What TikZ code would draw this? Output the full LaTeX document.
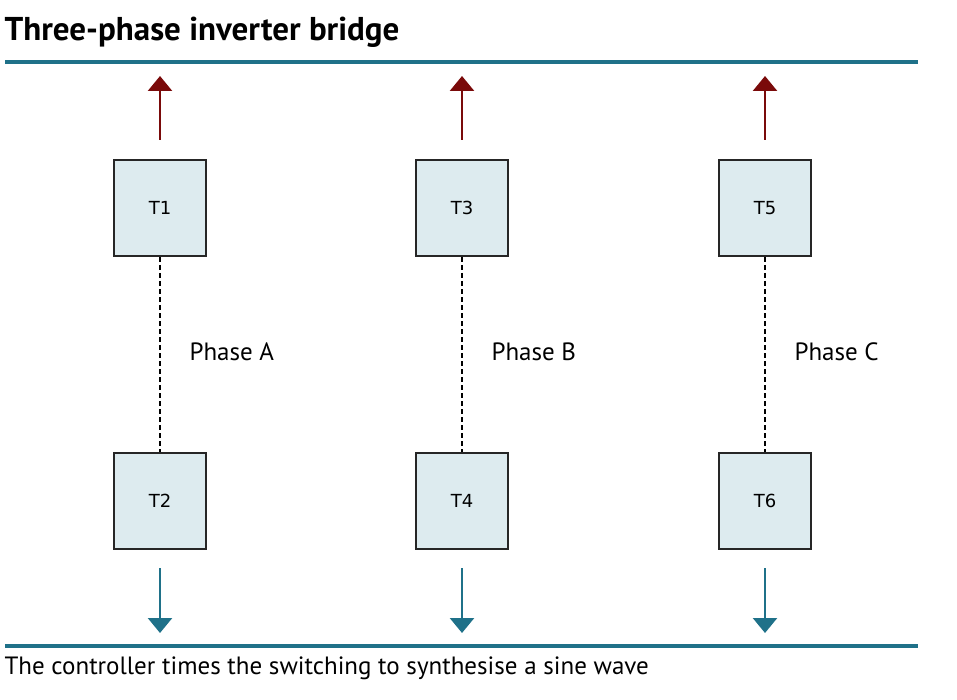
\documentclass[tikz,border=0pt]{standalone}
\usepackage{fontspec}
\setmainfont{PT Sans}
\newfontfamily\boxfont{DejaVu Sans}
\usetikzlibrary{arrows.meta}
\definecolor{teal1}{HTML}{1F7189}
\definecolor{dred}{HTML}{7A0A0A}
\definecolor{boxfill}{HTML}{DDEBEF}
\begin{document}
\begin{tikzpicture}[x=1pt,y=-1pt,
  sw/.style={draw=black!85,line width=2pt,fill=boxfill,minimum width=92pt,minimum height=96pt,inner sep=0pt,font=\boxfont\fontsize{18}{20}\selectfont},
  up/.style={draw=dred,line width=2.6pt,-{Triangle[length=15pt,width=24pt]}},
  dn/.style={draw=teal1,line width=2.6pt,-{Triangle[length=15pt,width=24pt]}},
  rail/.style={draw=teal1,line width=3.2pt},
  ph/.style={anchor=west,font=\fontsize{25}{28}\selectfont},
  leg/.style={draw=black,line width=2.2pt,dash pattern=on 5pt off 3pt}]
\useasboundingbox (0,0) rectangle (957,700);
\node[anchor=west,font=\bfseries\fontsize{33}{38}\selectfont] (title) at (1,32) {Three-phase inverter bridge};
\coordinate (r1a) at (5,62); \coordinate (r1b) at (918,62);
\coordinate (r2a) at (5,646); \coordinate (r2b) at (918,646);
\draw[rail] (r1a) -- (r1b);
\draw[rail] (r2a) -- (r2b);
\foreach \x/\t/\b/\p in {160/T1/T2/A,462/T3/T4/B,765/T5/T6/C}{
  \node[sw] (\t) at (\x,208) {\t};
  \node[sw] (\b) at (\x,501) {\b};
  \coordinate (s\t) at (\x,140); \coordinate (e\t) at (\x,76);
  \coordinate (s\b) at (\x,568); \coordinate (e\b) at (\x,633);
  \draw[up] (s\t) -- (e\t);
  \draw[dn] (s\b) -- (e\b);
  \draw[leg] (\t.south) -- (\b.north);
  \node[ph] (ph\p) at (\x+26,352) {Phase \p};
}
\node[anchor=west,font=\fontsize{25}{28}\selectfont] (foot) at (1,668) {The controller times the switching to synthesise a sine wave};
\end{tikzpicture}
\end{document}
